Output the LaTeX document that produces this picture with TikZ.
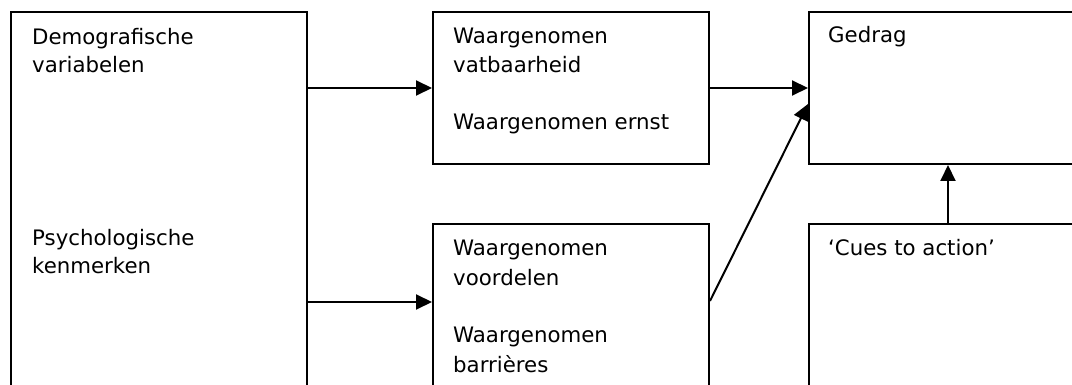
\documentclass[tikz,border=0pt]{standalone}
\usepackage{fontspec}
\setmainfont{DejaVu Sans}
\usetikzlibrary{arrows.meta}
\begin{document}
\begin{tikzpicture}[x=1pt,y=-1pt,
  box/.style={draw=black,line width=2pt,rectangle,inner sep=0pt,anchor=north west},
  txt/.style={anchor=base west,inner sep=0pt,font=\fontsize{21.3}{28}\selectfont},
  arr/.style={line width=2pt,-{Triangle[length=16pt,width=15pt]}}]
\useasboundingbox (0,0) rectangle (1072,385);
\clip (0,0) rectangle (1072,385);
\fill[white] (0,0) rectangle (1072,385);

% boxes (the lower ones run past the bottom edge, the right ones past the right edge)
\node[box,minimum width=296pt,minimum height=430pt] (b1) at (10,11) {};
\node[box,minimum width=276pt,minimum height=152pt] (b2) at (432,11) {};
\node[box,minimum width=300pt,minimum height=152pt] (b3) at (808,11) {};
\node[box,minimum width=276pt,minimum height=220pt] (b4) at (432,223) {};
\node[box,minimum width=300pt,minimum height=220pt] (b5) at (808,223) {};

% texts
\node[txt] (t1a) at (32,45) {Demografische};
\node[txt] (t1b) at (32,73) {variabelen};
\node[txt] (t1c) at (32,245) {Psychologische};
\node[txt] (t1d) at (32,273) {kenmerken};

\node[txt] (t2a) at (453,44) {Waargenomen};
\node[txt] (t2b) at (453,73) {vatbaarheid};
\node[txt] (t2c) at (453,130) {Waargenomen ernst};

\node[txt] (t3a) at (828,43) {Gedrag};

\node[txt] (t4a) at (453,255) {Waargenomen};
\node[txt] (t4b) at (453,285) {voordelen};
\node[txt] (t4c) at (453,342) {Waargenomen};
\node[txt] (t4d) at (453,372) {barrières};

\node[txt] (t5a) at (828,255) {‘Cues to action’};

% connectors
\draw[arr] (b1.east |- b2.west) -- (b2.west);
\coordinate (p4) at ([yshift=-79pt]b4.north west);
\draw[arr] (b1.east |- p4) -- (p4);
\draw[arr] (b2.east) -- (b3.west);
\draw[arr] ([yshift=-78pt]b4.north east) -- ([yshift=-16pt]b3.west);
\draw[arr] ([xshift=140pt]b5.north west) -- ([xshift=140pt]b3.south west);
\end{tikzpicture}
\end{document}
